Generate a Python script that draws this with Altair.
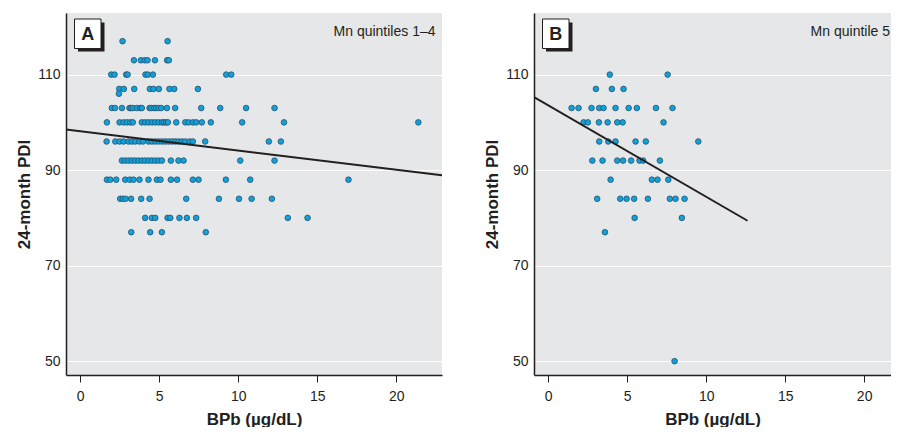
import altair as alt
import pandas as pd

# ---------------- data ----------------
# Panel A (Mn quintiles 1-4): BPb values grouped by 24-month PDI score
A_ROWS = {
    117: [2.68, 5.53],
    113: [3.40, 3.84, 4.09, 4.26, 4.73, 5.50, 5.61],
    110: [1.96, 2.17, 2.91, 3.00, 4.13, 4.28, 4.60, 9.24, 9.56],
    107: [2.47, 2.76, 3.42, 4.41, 4.64, 4.98, 5.65, 5.95, 7.45],
    106: [2.45],
    103: [2.00, 2.20, 2.64, 3.12, 3.20, 3.33, 3.58, 3.80, 3.90, 4.39, 4.50, 4.68,
          4.80, 4.96, 5.13, 5.49, 6.01, 7.66, 8.86, 10.50, 12.30],
    100: [1.69, 2.49, 2.74, 2.96, 3.17, 3.33, 3.90, 4.11, 4.32, 4.54, 4.75, 4.96,
          5.17, 5.30, 5.44, 5.55, 6.08, 6.65, 6.86, 7.13, 7.34, 7.70, 8.27, 10.25,
          12.90, 21.40],
    96: [1.67, 2.22, 2.49, 2.74, 3.06, 3.27, 3.48, 3.75, 3.97, 4.32, 4.53, 4.75,
         4.96, 5.17, 5.38, 5.59, 5.80, 6.01, 6.22, 6.43, 6.65, 6.92, 7.13, 7.91,
         11.94, 12.70],
    92: [2.64, 2.85, 3.06, 3.27, 3.48, 3.69, 3.90, 4.11, 4.32, 4.53, 4.75, 4.96,
         5.17, 5.74, 6.22, 6.54, 10.13, 12.30],
    88: [1.69, 1.90, 2.28, 2.85, 3.14, 3.37, 3.75, 4.32, 4.85, 5.08, 5.74, 6.13,
         7.13, 7.49, 9.22, 10.76, 16.98],
    84: [2.53, 2.70, 2.87, 3.22, 3.86, 4.39, 6.71, 8.78, 10.05, 10.85, 12.13],
    80: [4.11, 4.54, 4.75, 5.53, 5.70, 6.28, 6.75, 7.34, 13.14, 14.39],
    77: [3.23, 4.43, 5.17, 7.95],
}
# Panel B (Mn quintile 5)
B_ROWS = {
    110: [3.90, 7.56],
    107: [3.02, 4.03, 4.77],
    103: [1.48, 1.92, 2.74, 3.23, 3.50, 4.26, 5.09, 5.61, 6.82, 7.87],
    100: [2.24, 2.51, 3.21, 3.76, 4.37, 4.71, 7.30],
    96: [3.23, 3.80, 4.26, 5.53, 6.18, 9.50],
    92: [2.79, 3.44, 4.37, 4.74, 5.25, 5.78, 6.01, 7.07],
    88: [3.95, 6.56, 6.92, 7.60],
    84: [3.10, 4.56, 4.96, 5.44, 6.31, 7.70, 8.06, 8.63],
    80: [5.47, 8.46],
    77: [3.59],
    50: [8.00],
}
# fitted lines (end points)
A_LINE_X = [-0.9, 22.9]
A_LINE_Y = [98.5, 88.9]
B_LINE_X = [-0.9, 12.62]
B_LINE_Y = [105.3, 79.4]

X_TICKS = [0, 5, 10, 15, 20]
Y_TICKS = [50, 70, 90, 110]
Y_DOMAIN = [47.1, 122.9]


def rows_to_df(rows):
    recs = [{"bpb": x, "pdi": y} for y, xs in rows.items() for x in xs]
    return pd.DataFrame(recs)


FONT = "Liberation Sans, Arial, sans-serif"
INK = "#231f20"
ONE = pd.DataFrame({"k": [0]})


def panel(rows, lx, ly, x_domain, width, letter, note, note_inset):
    xs = alt.Scale(domain=x_domain, nice=False, zero=False)
    ys = alt.Scale(domain=Y_DOMAIN, nice=False, zero=False)
    xaxis = alt.Axis(values=X_TICKS, title="BPb (µg/dL)", grid=False,
                     ticks=True, tickSize=7, tickColor=INK, tickWidth=1,
                     labelPadding=7, titlePadding=8)
    yaxis = alt.Axis(values=Y_TICKS, title="24-month PDI", grid=True,
                     gridColor="white", gridWidth=1.2, ticks=False,
                     labelPadding=6, titlePadding=4)
    pts = alt.Chart(rows_to_df(rows)).mark_circle(
        size=32, opacity=1, fill="#0ea1dc", stroke="#2d5168", strokeWidth=0.8
    ).encode(x=alt.X("bpb:Q", scale=xs, axis=xaxis),
             y=alt.Y("pdi:Q", scale=ys, axis=yaxis))
    line = alt.Chart(pd.DataFrame({"bpb": lx, "pdi": ly})).mark_line(
        color=INK, strokeWidth=2, clip=True
    ).encode(x=alt.X("bpb:Q", scale=xs), y=alt.Y("pdi:Q", scale=ys))
    shadow = alt.Chart(ONE).mark_rect(color=INK).encode(
        x=alt.value(12), x2=alt.value(38.5), y=alt.value(9.5), y2=alt.value(38.5))
    box = alt.Chart(ONE).mark_rect(fill="white", stroke=INK, strokeWidth=1).encode(
        x=alt.value(8.5), x2=alt.value(35), y=alt.value(6), y2=alt.value(35.5))
    let = alt.Chart(ONE).mark_text(
        text=letter, font=FONT, fontWeight="bold", fontSize=18,
        color=INK, align="center", baseline="middle"
    ).encode(x=alt.value(21.8), y=alt.value(21.5))
    nt = alt.Chart(ONE).mark_text(
        text=note, font=FONT, fontSize=14, color=INK, align="right",
        baseline="middle"
    ).encode(x=alt.value(width - note_inset), y=alt.value(18.5))
    return alt.layer(pts, line, shadow, box, let, nt).properties(
        width=width, height=362)


pa = panel(A_ROWS, A_LINE_X, A_LINE_Y, [-0.9, 22.9], 376, "A",
           "Mn quintiles 1–4", 6.5)
pb = panel(B_ROWS, B_LINE_X, B_LINE_Y, [-0.9, 21.7], 357, "B",
           "Mn quintile 5", 1)

chart = alt.hconcat(pa, pb, spacing=41).properties(
    padding={"left": 7, "top": 5, "right": 0, "bottom": 0}
).configure_view(
    fill="#e6e7e8", strokeWidth=0
).configure_axis(
    labelFont=FONT, labelFontSize=14, labelColor=INK,
    titleFont=FONT, titleFontSize=17, titleFontWeight="bold", titleColor=INK,
    domainColor=INK, domainWidth=1.5
)

chart.save("out.html", embed_options={"renderer": "svg", "actions": False})
